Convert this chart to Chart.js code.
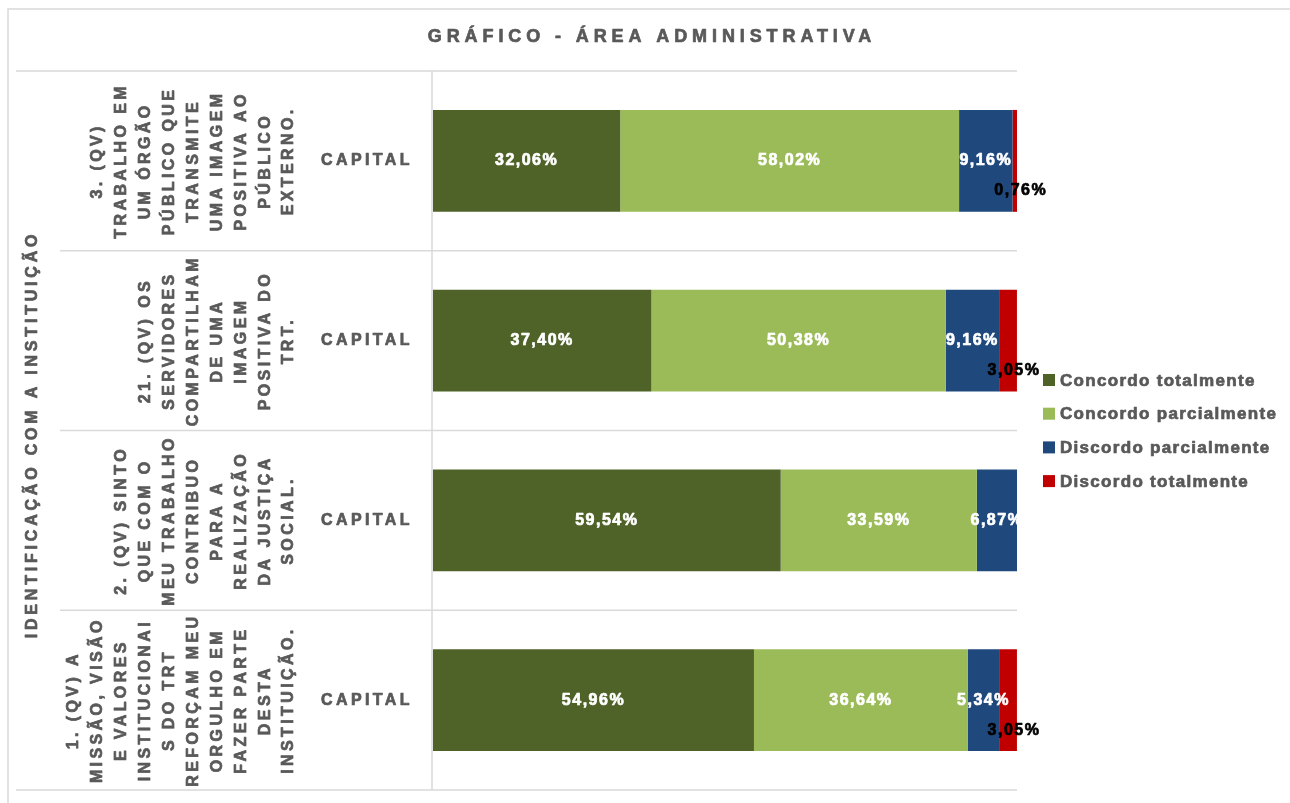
<!DOCTYPE html>
<html>
<head>
<meta charset="utf-8">
<title>Gráfico - Área Administrativa</title>
<script src="https://cdn.jsdelivr.net/npm/chart.js@4.4.0/dist/chart.umd.min.js"></script>
<style>
  html, body { margin: 0; padding: 0; background: #fff; }
  #wrap { width: 1290px; height: 803px; }
</style>
</head>
<body>
<div id="wrap"><canvas id="areaChart" width="1290" height="803"></canvas></div>
<script>
const chartTitle = "GRÁFICO - ÁREA ADMINISTRATIVA";
const axisTitle = "IDENTIFICAÇÃO COM A INSTITUIÇÃO";
const groupLabel = "CAPITAL";

const questions = [
  ["3. (QV)", "TRABALHO EM", "UM ÓRGÃO", "PÚBLICO QUE", "TRANSMITE", "UMA IMAGEM", "POSITIVA AO", "PÚBLICO", "EXTERNO."],
  ["21. (QV) OS", "SERVIDORES", "COMPARTILHAM", "DE UMA", "IMAGEM", "POSITIVA DO", "TRT."],
  ["2. (QV) SINTO", "QUE COM O", "MEU TRABALHO", "CONTRIBUO", "PARA A", "REALIZAÇÃO", "DA JUSTIÇA", "SOCIAL."],
  ["1. (QV) A", "MISSÃO, VISÃO", "E VALORES", "INSTITUCIONAI", "S DO TRT", "REFORÇAM MEU", "ORGULHO EM", "FAZER PARTE", "DESTA", "INSTITUIÇÃO."],
];

const seriesNames = ["Concordo totalmente", "Concordo parcialmente", "Discordo parcialmente", "Discordo totalmente"];
const concordoTotal = [32.06, 37.40, 59.54, 54.96];
const concordoParcial = [58.02, 50.38, 33.59, 36.64];
const discordoParcial = [9.16, 9.16, 6.87, 5.34];
const discordoTotal = [0.76, 3.05, 0, 3.05];

const colors = ["#4F6228", "#9BBB59", "#1F497D", "#C00000"];
const grey = "#595959";
const lineGrey = "#d9d9d9";
const fontFamily = "'Liberation Sans', Arial, sans-serif";

function fmt(v) {
  return v.toFixed(2).replace(".", ",") + "%";
}

// fill plus a thin stroke so the bold text is as heavy as the original
function heavyText(ctx, text, x, y, color) {
  ctx.fillStyle = color;
  ctx.strokeStyle = color;
  ctx.lineWidth = 0.7;
  ctx.lineJoin = "round";
  ctx.fillText(text, x, y);
  ctx.strokeText(text, x, y);
}

const chartDecor = {
  id: "chartDecor",
  beforeDraw(chart) {
    const ctx = chart.ctx;
    const area = chart.chartArea;
    const yScale = chart.scales.y;
    ctx.save();
    ctx.fillStyle = "#fff";
    ctx.fillRect(0, 0, chart.width, chart.height);

    ctx.strokeStyle = lineGrey;
    ctx.lineWidth = 1.5;
    ctx.strokeRect(8, 9, chart.width + 10, chart.height + 10);

    const n = questions.length;
    for (let i = 0; i <= n; i++) {
      let y;
      if (i === 0) y = area.top;
      else if (i === n) y = area.bottom;
      else y = (yScale.getPixelForValue(i - 1) + yScale.getPixelForValue(i)) / 2;
      const x0 = (i === 0 || i === n) ? 16 : 60;
      ctx.beginPath();
      ctx.moveTo(x0, y);
      ctx.lineTo(area.right, y);
      ctx.stroke();
    }
    ctx.beginPath();
    ctx.moveTo(area.left - 1, area.top);
    ctx.lineTo(area.left - 1, area.bottom);
    ctx.stroke();
    ctx.restore();
  },
  afterDatasetsDraw(chart) {
    const ctx = chart.ctx;
    ctx.save();
    ctx.font = "bold 16px " + fontFamily;
    ctx.letterSpacing = "1.5px";
    ctx.textAlign = "center";
    ctx.textBaseline = "middle";
    chart.data.datasets.forEach((ds, di) => {
      const meta = chart.getDatasetMeta(di);
      meta.data.forEach((bar, i) => {
        const v = ds.data[i];
        if (!v) return;
        const cx = (bar.x + bar.base) / 2;
        if (di === 3) {
          heavyText(ctx, fmt(v), cx + 6, bar.y + 30, "#000");
        } else {
          heavyText(ctx, fmt(v), cx, bar.y, "#fff");
        }
      });
    });
    ctx.restore();
  },
  afterDraw(chart) {
    const ctx = chart.ctx;
    const area = chart.chartArea;
    const yScale = chart.scales.y;
    ctx.save();
    ctx.textAlign = "center";
    ctx.textBaseline = "middle";

    // title
    ctx.font = "bold 18px " + fontFamily;
    ctx.letterSpacing = "4.9px";
    heavyText(ctx, chartTitle, 652, 37, grey);

    // axis title
    ctx.font = "bold 16px " + fontFamily;
    ctx.letterSpacing = "3.8px";
    ctx.save();
    ctx.translate(33, (area.top + area.bottom) / 2 + 4);
    ctx.rotate(-Math.PI / 2);
    heavyText(ctx, axisTitle, 0, 0, grey);
    ctx.restore();

    // category labels
    ctx.letterSpacing = "3.4px";
    questions.forEach((lines, i) => {
      const y = yScale.getPixelForValue(i);
      const n = lines.length;
      lines.forEach((line, j) => {
        const x = 289 - (n - 1 - j) * 23.9;
        ctx.save();
        ctx.translate(x, y);
        ctx.rotate(-Math.PI / 2);
        heavyText(ctx, line, 0, 0, grey);
        ctx.restore();
      });
      heavyText(ctx, groupLabel, 367, y, grey);
    });

    // legend
    ctx.textAlign = "left";
    ctx.font = "bold 17px " + fontFamily;
    ctx.letterSpacing = "1.3px";
    seriesNames.forEach((name, i) => {
      const y = 380 + i * 33.7;
      ctx.fillStyle = colors[i];
      ctx.fillRect(1043, y - 6, 12, 12);
      heavyText(ctx, name, 1060, y + 1, grey);
    });
    ctx.restore();
  }
};

const ctx = document.getElementById("areaChart").getContext("2d");
const seriesData = [concordoTotal, concordoParcial, discordoParcial, discordoTotal];

new Chart(ctx, {
  type: "bar",
  data: {
    labels: questions.map((q) => q.join(" ")),
    datasets: seriesNames.map((name, i) => ({
      label: name,
      data: seriesData[i],
      backgroundColor: colors[i],
      borderWidth: 0,
      barPercentage: 1,
      categoryPercentage: 0.567,
    })),
  },
  options: {
    indexAxis: "y",
    responsive: false,
    animation: false,
    layout: {
      padding: { left: 433, right: 273, top: 71, bottom: 13 },
    },
    plugins: {
      legend: { display: false },
      title: { display: false },
      tooltip: { enabled: false },
    },
    scales: {
      x: { stacked: true, min: 0, max: 100, display: false },
      y: { stacked: true, display: false },
    },
  },
  plugins: [chartDecor],
});
</script>
</body>
</html>
